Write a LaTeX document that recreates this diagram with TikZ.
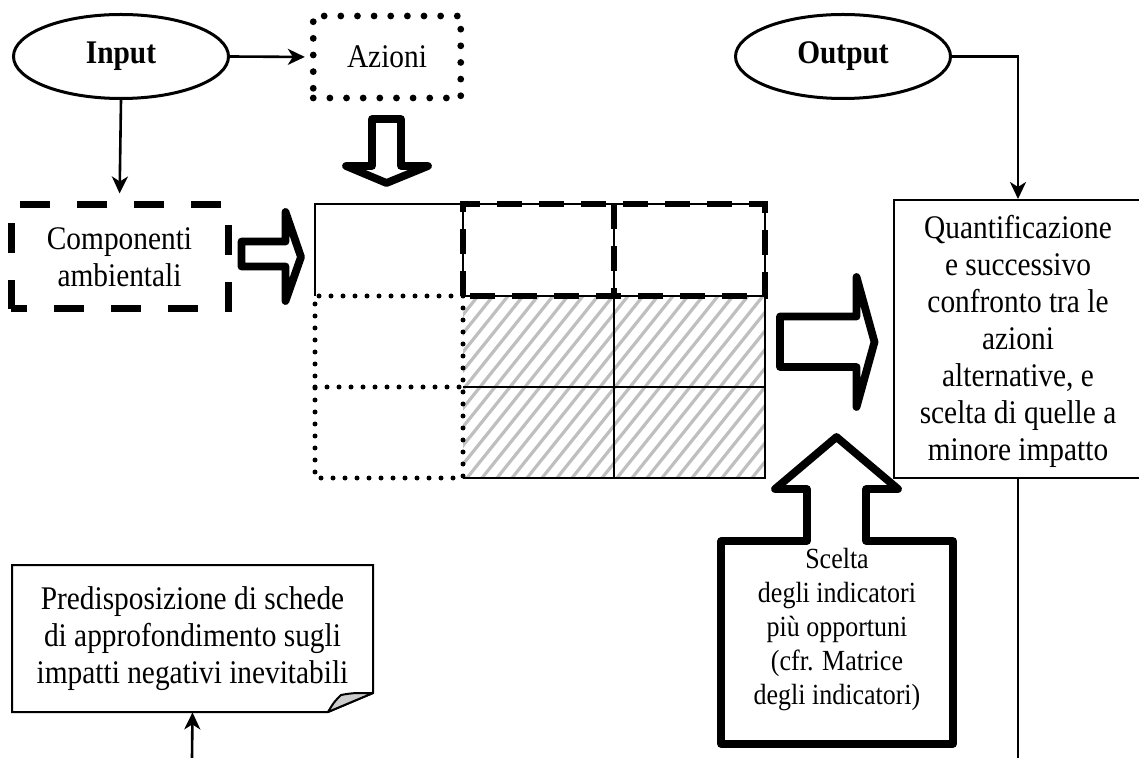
\documentclass[tikz,border=0pt]{standalone}
\usepackage{fontspec}
\setmainfont{Liberation Serif}[FakeStretch=0.89]
\usetikzlibrary{shapes.geometric,arrows.meta}

\tikzset{
  every node/.style={font=\fontsize{16.5}{18.5}\selectfont, align=center},
  conn/.style={line width=1.3pt},
  arr/.style={conn, -{Stealth[length=8.5pt,width=8pt,inset=2.5pt]}},
  oval/.style={ellipse, draw, line width=1.5pt, minimum width=107.5pt,
               minimum height=42pt, inner sep=0pt,
               font=\fontsize{16.5}{18.5}\selectfont\bfseries},
  dotbox/.style={draw, line width=3.4pt, line cap=round, dash pattern=on 0pt off 8.32pt},
  dashbox/.style={draw, line width=3.5pt, dash pattern=on 15pt off 13.5pt, dash phase=7pt},
  gridline/.style={line width=1pt},
  griddot/.style={line width=2.5pt, line cap=round, dash pattern=on 0pt off 6pt},
  griddash/.style={line width=2.6pt, dash pattern=on 12.5pt off 8.5pt},
  hatch/.style={black!25, line width=1.6pt},
  blockarrow/.style={draw, line width=3.9pt, line join=round},
  plainbox/.style={draw, line width=1pt, inner sep=0pt},
}

\begin{document}
\begin{tikzpicture}[x=0.5pt, y=-0.5pt]
\useasboundingbox (0,0) rectangle (1139,758);

% --- top row: inputs ---------------------------------------------------
\node[oval] (input) at (121,56.5) {Input};
\node[dotbox, minimum width=73.75pt, minimum height=41pt, inner sep=0pt] (azioni) at (387,57) {Azioni};
\node[dashbox, minimum width=108.5pt, minimum height=52pt, inner sep=0pt] (comp) at (119.5,257)
  {Componenti\\ambientali};
\node[oval] (output) at (843,56.5) {Output};

\draw[arr, shorten >=2.5pt] (input.east) -- (azioni.west);
\draw[arr, shorten >=4pt] (input.south) -- (comp.north);

% --- matrix ------------------------------------------------------------
\begin{scope}
  \clip (463,296) rectangle (765,478);
  \foreach \k in {0,...,32}
    \draw[hatch] (317+\k*15,478) -- ++(146,-182);
\end{scope}
\draw[gridline] (315,296) -- (315,204) -- (765,204) -- (765,478) -- (463,478);
\draw[gridline] (463,204) -- (463,296);
\draw[gridline] (614,204) -- (614,478);
\draw[gridline] (463,296) -- (765,296);
\draw[gridline] (463,387) -- (765,387);
\draw[griddot] (463,296) -- (315,296) -- (315,478) -- (463,478) -- cycle;
\draw[griddot] (315,387) -- (463,387);
\draw[griddash] (463,296) rectangle (765,204);
\draw[griddash] (614,204) -- (614,296);

% --- block arrows --------------------------------------------------------
\draw[blockarrow] (372,119) -- (401,119) -- (401,166) -- (428,166) -- (386.5,183)
  -- (346,166) -- (372,166) -- cycle;
\draw[blockarrow] (241.5,241.5) -- (285.5,241.5) -- (285.5,212) -- (301,257)
  -- (285.5,301) -- (285.5,266.5) -- (241.5,266.5) -- cycle;
\draw[blockarrow] (780,316.5) -- (856.5,316.5) -- (856.5,277) -- (874.5,342)
  -- (856.5,407) -- (856.5,367) -- (780,367) -- cycle;
\draw[blockarrow] (721,744) -- (721,541) -- (807,541) -- (807,489) -- (775,489)
  -- (836.5,437) -- (898,489) -- (866,489) -- (866,541) -- (953,541) -- (953,744) -- cycle;
\node[font=\fontsize{14.6}{17}\selectfont] (scelta) at (837,630)
  {Scelta\\degli indicatori\\più opportuni\\(cfr. Matrice\\degli indicatori)};

% --- result box ----------------------------------------------------------
\node[plainbox, minimum width=128pt, minimum height=139pt] (q) at (1022,339) {};
\node (qt) at (1018,341)
  {Quantificazione\\e successivo\\confronto tra le\\azioni\\alternative, e\\scelta di quelle a\\minore impatto};
\draw[arr] (output.east) -| (qt.center |- q.north);
\coordinate (qbase) at (1018,758);
\draw[conn] (qt.center |- q.south) -- (qbase);

% --- note with folded corner ---------------------------------------------
\node[inner sep=0pt, minimum width=180.5pt, minimum height=73.5pt] (note) at (192.5,638.5)
  {Predisposizione di schede\\di approfondimento sugli\\impatti negativi inevitabili};
\draw[line width=1pt] (12,712) -- (12,565) -- (373,565) -- (373,693) -- (328,712) -- cycle;
\filldraw[line width=1pt, fill=black!20, line join=round]
  (328,712) .. controls (334,702) .. (341,695) .. controls (352,693) .. (373,693) -- cycle;
\coordinate (nbase) at (192,758);
\draw[arr] (nbase) -- (note.south);

\end{tikzpicture}
\end{document}
